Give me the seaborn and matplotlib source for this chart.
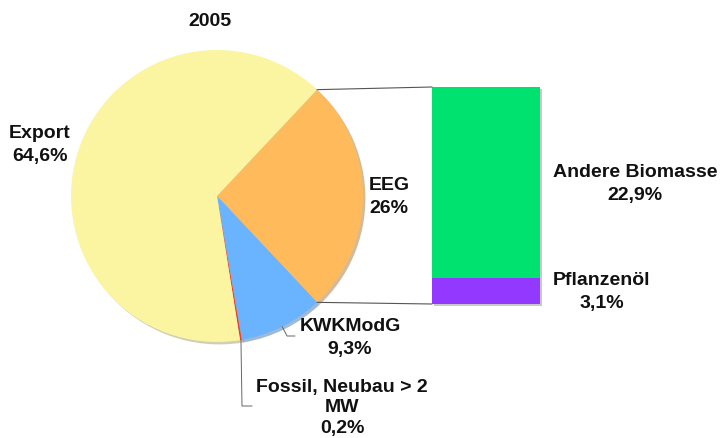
import numpy as np
import matplotlib
matplotlib.use("Agg")
import matplotlib.pyplot as plt
import seaborn as sns
from matplotlib.patches import ConnectionPatch
from matplotlib.lines import Line2D

sns.set_style("white")
plt.rcParams["font.family"] = ["Liberation Sans", "DejaVu Sans"]
plt.rcParams["font.weight"] = "bold"

# Data
pie_labels = ["EEG", "KWKModG", "Fossil, Neubau > 2\nMW", "Export"]
pie_values = [26.0, 9.3, 0.2, 64.6]
pie_text = ["26%", "9,3%", "0,2%", "64,6%"]
pie_colors = ["#FFBA5C", "#69B3FF", "#E8403A", "#FBF5A2"]

bar_labels = ["Pflanzenöl", "Andere Biomasse"]
bar_values = [3.1, 22.9]
bar_text = ["3,1%", "22,9%"]
bar_colors = ["#9338FF", "#00E26F"]

W, H = 720, 439
fig = plt.figure(figsize=(W / 100, H / 100), dpi=100)


def fx(x, y):
    return (x / W, 1 - y / H)


# Pie axes (center 217,197 px, radius 146 px)
cx, cy, r = 217, 197, 146
ax = fig.add_axes([(cx - r) / W, (H - cy - r) / H, 2 * r / W, 2 * r / H])
total = sum(pie_values)
start = pie_values[0] / total * 360 / 2
wedges, _ = ax.pie(pie_values, colors=pie_colors, startangle=start, counterclock=False,
                   wedgeprops=dict(linewidth=0),
                   shadow=dict(ox=0.012, oy=-0.012, shade=0.35))
ax.set_xlim(-1, 1)
ax.set_ylim(-1, 1)
ax.set_aspect("equal")

# Bar axes: bar spans 432..540 px wide, 88..305 px high; 3 px extra for shadow
bx0, bx1, by0, by1 = 432, 540, 88, 305
pad = 3
bw, bh = bx1 - bx0, by1 - by0
btot = sum(bar_values)
bax = fig.add_axes([bx0 / W, (H - by1 - pad) / H, (bw + pad) / W, (bh + pad) / H])
sx = 2 / bw
sy = 2 / bh * btot
bax.bar(sx, btot, bottom=-sy, width=1.0, color="#c8c8c8", linewidth=0, zorder=1)
bottom = 0
for v, c in zip(bar_values, bar_colors):
    bax.bar(0, v, bottom=bottom, width=1.0, color=c, linewidth=0, zorder=2)
    bottom += v
bax.set_xlim(-0.5, 0.5 + pad / bw)
bax.set_ylim(-pad / bh * btot, btot)
bax.set_axis_off()

# Connector lines from EEG wedge to bar
t1 = np.deg2rad(wedges[0].theta2)
t2 = np.deg2rad(wedges[0].theta1)
for th, yb in [(t1, btot), (t2, 0)]:
    con = ConnectionPatch(xyA=(np.cos(th), np.sin(th)), coordsA=ax.transData,
                          xyB=(-0.5, yb), coordsB=bax.transData,
                          color="#555555", lw=0.8)
    fig.add_artist(con)

fs = 14
kw = dict(fontsize=fs, fontweight="bold", linespacing=1.45, color="#111111")

fig.text(*fx(210, 22), "2005", ha="center", va="center", **kw)
fig.text(*fx(40, 145), f"{pie_labels[3]}\n{pie_text[3]}", ha="center", va="center", **kw)
fig.text(*fx(369, 197), f"{pie_labels[0]}\n{pie_text[0]}", ha="left", va="center", **kw)
fig.text(*fx(350, 338), f"{pie_labels[1]}\n{pie_text[1]}", ha="center", va="center", **kw)
fig.text(*fx(342, 408), f"{pie_labels[2]}\n{pie_text[2]}", ha="center", va="center",
         **{**kw, "linespacing": 1.3})
fig.text(*fx(635, 184), f"{bar_labels[1]}\n{bar_text[1]}", ha="center", va="center", **kw)
fig.text(*fx(602, 292), f"{bar_labels[0]}\n{bar_text[0]}", ha="center", va="center", **kw)

# Leader lines for small slices
to_fig = ax.transData + fig.transFigure.inverted()
for w, (kx, ky), (ex, ey) in [(wedges[1], (287, 337), (295, 337)),
                              (wedges[2], (242, 407), (252, 407))]:
    th = np.deg2rad((w.theta1 + w.theta2) / 2)
    p0 = to_fig.transform((np.cos(th), np.sin(th)))
    p1 = fx(kx, ky)
    p2 = fx(ex, ey)
    fig.add_artist(Line2D([p0[0], p1[0], p2[0]], [p0[1], p1[1], p2[1]],
                          transform=fig.transFigure, color="#666666", lw=0.7))

fig.savefig("out.png", dpi=100, facecolor="white")
